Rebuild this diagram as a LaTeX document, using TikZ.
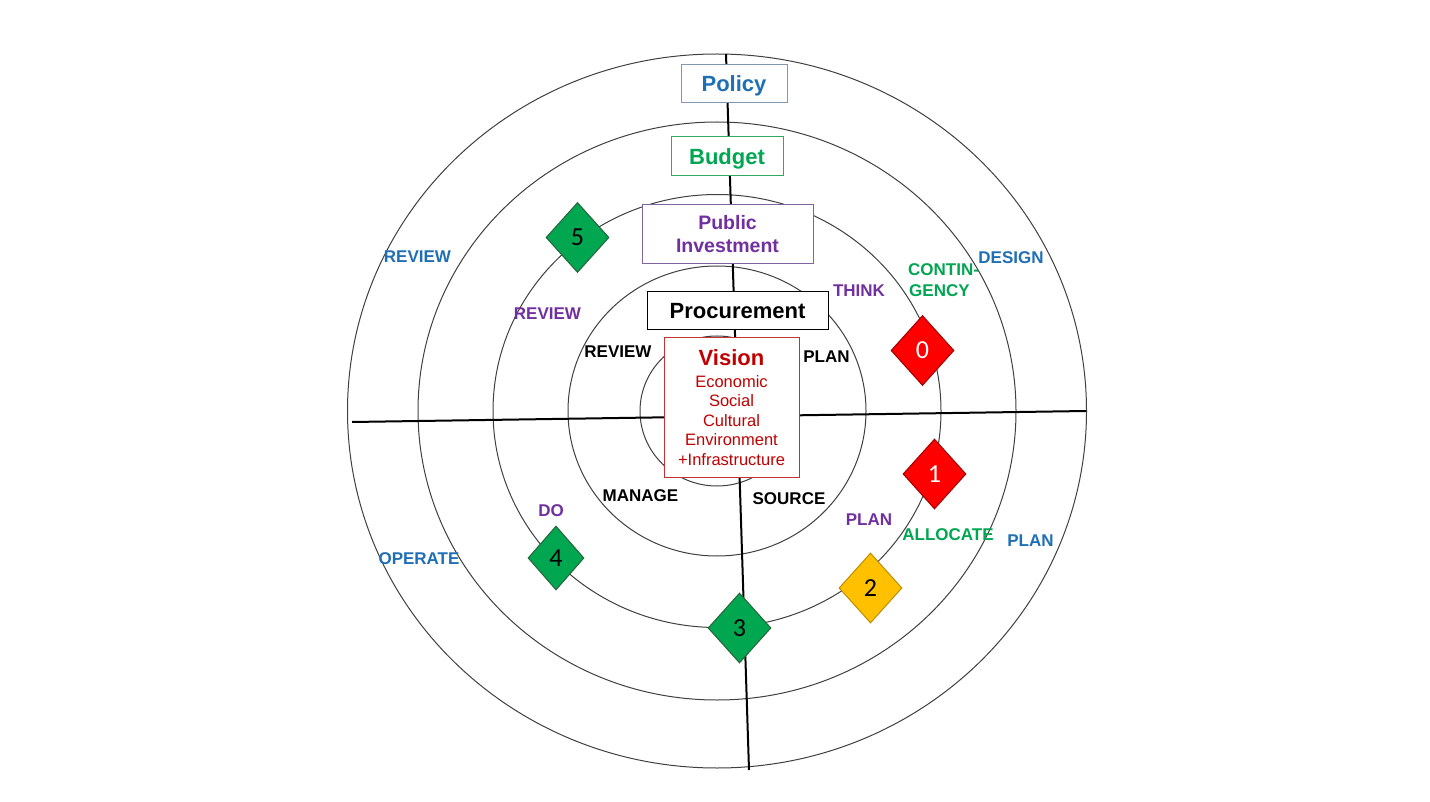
\documentclass[tikz,border=0pt]{standalone}
\usepackage{fontspec}
\setmainfont{Liberation Sans}
\newfontfamily\numfont{Carlito}
\usetikzlibrary{shapes.geometric}
\definecolor{lblue}{RGB}{31,111,181}
\definecolor{lpurple}{RGB}{112,48,160}
\definecolor{lgreen}{RGB}{0,166,81}
\definecolor{vred}{RGB}{192,0,0}
\definecolor{vborder}{RGB}{196,50,50}
\definecolor{pborder}{RGB}{128,100,162}
\definecolor{bborder}{RGB}{50,168,100}
\definecolor{polborder}{RGB}{132,151,176}
\definecolor{ringc}{RGB}{64,64,64}
\definecolor{dgreen}{RGB}{0,166,80}
\definecolor{dgreenb}{RGB}{40,100,60}
\definecolor{dred}{RGB}{255,0,0}
\definecolor{dredb}{RGB}{160,0,0}
\definecolor{dyellow}{RGB}{255,192,0}
\definecolor{dyellowb}{RGB}{190,140,0}
\begin{document}
\begin{tikzpicture}[x=1pt,y=-1pt,
  ring/.style={draw=ringc, line width=1pt},
  axis/.style={draw=black, line width=2pt},
  tbox/.style={draw, fill=white, line width=1pt, inner sep=0pt, align=center},
  lab/.style={inner sep=0pt, font=\fontsize{17}{17}\selectfont\bfseries},
  dmd/.style={diamond, inner sep=0pt, line width=1pt, minimum width=63pt, minimum height=70pt, font=\numfont\fontsize{26}{26}\selectfont}
]
\useasboundingbox (0,0) rectangle (1430,802);
\fill[white] (0,0) rectangle (1430,802);

% rings
\draw[ring] (717,411) ellipse [x radius=369.5pt, y radius=357pt];
\draw[ring] (717,411) ellipse [x radius=299pt, y radius=289pt];
\draw[ring] (717,411) ellipse [x radius=224pt, y radius=216.5pt];
\draw[ring] (717,411) ellipse [x radius=149pt, y radius=145pt];
\draw[ring] (717,411) ellipse [x radius=77pt, y radius=75pt];

% axes
\coordinate (vtop) at (726,54);
\coordinate (vbot) at (749,770);
\coordinate (hleft) at (352,422);
\coordinate (hright) at (1086,411);
\draw[axis] (vtop) -- (vbot);
\draw[axis] (hleft) -- (hright);

% boxes
\node[tbox, draw=polborder, text=lblue, minimum width=106pt, minimum height=38pt,
  font=\fontsize{22}{22}\selectfont\bfseries, text height=15.75pt, text depth=0pt] (policy) at (734,84) {Policy};
\node[tbox, draw=bborder, text=lgreen, minimum width=112pt, minimum height=39pt,
  font=\fontsize{22}{22}\selectfont\bfseries, text height=15.75pt, text depth=0pt] (budget) at (727,156.5) {Budget};
\node[tbox, draw=pborder, text=lpurple, minimum width=171pt, minimum height=59pt,
  font=\fontsize{19.5}{23}\selectfont\bfseries] (pubinv) at (727.5,234.5) {Public\\Investment};
\node[tbox, draw=black, text=black, minimum width=181pt, minimum height=38pt,
  font=\fontsize{22}{22}\selectfont\bfseries, text height=15.75pt, text depth=0pt] (procure) at (737.5,311) {Procurement};
\node[tbox, draw=vborder, text=vred, minimum width=135pt, minimum height=139pt,
  font=\fontsize{16.5}{19.5}\selectfont] (vision) at (731.5,407.5)
  {{\fontsize{22}{22}\selectfont\bfseries Vision}\\[2.5pt]Economic\\Social\\Cultural\\Environment\\+Infrastructure};

% diamonds
\node[dmd, fill=dgreen, draw=dgreenb, text=black] (d5) at (577.5,237.5) {5};
\node[dmd, fill=dred, draw=dredb, text=white] (d0) at (922.5,350.5) {0};
\node[dmd, fill=dred, draw=dredb, text=white] (d1) at (934.5,474) {1};
\node[dmd, fill=dyellow, draw=dyellowb, text=black] (d2) at (870.5,588) {2};
\node[dmd, fill=dgreen, draw=dgreenb, text=black] (d3) at (739.5,628) {3};
\node[dmd, fill=dgreen, draw=dgreenb, text=black, minimum width=56pt, minimum height=64pt] (d4) at (556,558) {4};

% labels
\node[lab, text=lblue] (reviewo) at (417.5,256.5) {REVIEW};
\node[lab, text=lpurple] (reviewp) at (547.5,313.5) {REVIEW};
\node[lab, text=black] (reviewb) at (618,351.5) {REVIEW};
\node[lab, text=black] (planb) at (826.5,356.5) {PLAN};
\node[lab, text=black] (manage) at (640.5,496) {MANAGE};
\node[lab, text=black] (source) at (789,498.5) {SOURCE};
\node[lab, text=lpurple] (think) at (859,290.5) {THINK};
\node[lab, text=lgreen, anchor=west] (contin) at (908,270) {CONTIN-};
\node[lab, text=lgreen, anchor=west] (gency) at (909,290.5) {GENCY};
\node[lab, text=lblue] (design) at (1011,257.5) {DESIGN};
\node[lab, text=lpurple] (planp) at (869,520) {PLAN};
\node[lab, text=lgreen] (allocate) at (948,534.5) {ALLOCATE};
\node[lab, text=lblue] (planbl) at (1030.5,540.5) {PLAN};
\node[lab, text=lpurple] (do) at (551,510.5) {DO};
\node[lab, text=lblue] (operate) at (419,559) {OPERATE};
\end{tikzpicture}
\end{document}
